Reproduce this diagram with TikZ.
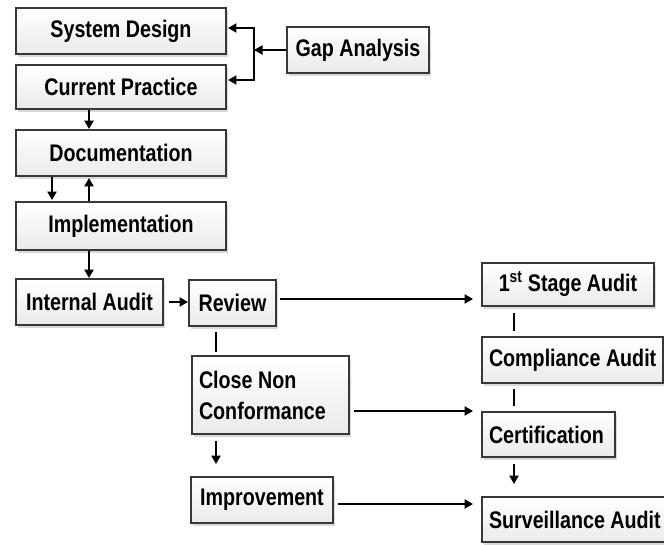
\documentclass[tikz,border=0pt]{standalone}
\usepackage{fontspec}
\newfontfamily\boxfont[FakeStretch=0.82]{Liberation Sans}
\usetikzlibrary{arrows.meta,shadows}
\tikzset{
  box/.style={draw=black!78, line width=1.9pt, top color=white, bottom color=gray!16,
    drop shadow={opacity=0.3, shadow xshift=2pt, shadow yshift=-3pt},
    inner sep=0pt, text=black,
    font=\boxfont\bfseries\fontsize{24}{31}\selectfont},
  conn/.style={line width=2.6pt, black},
  arr/.style={conn, -{Triangle[length=8.5pt,width=9pt]}},
}
\begin{document}
\begin{tikzpicture}[x=1pt,y=-1pt]
\useasboundingbox (0,0) rectangle (664,544);
% left column
\node[box, minimum width=210pt, minimum height=46pt] (sd) at (121,31) {System Design};
\node[box, minimum width=210pt, minimum height=44pt] (cp) at (121,87) {Current Practice};
\node[box, minimum width=210pt, minimum height=46pt] (doc) at (121,153) {Documentation};
\node[box, minimum width=210pt, minimum height=48pt] (imp) at (121,226) {Implementation};
\node[box, minimum width=142pt, minimum height=46pt] (gap) at (358,50) {Gap Analysis};
\node[box, minimum width=147pt, minimum height=46pt] (ia) at (89.5,302) {Internal Audit};
% middle column
\node[box, minimum width=87pt, minimum height=46pt] (rev) at (232.5,303) {Review};
\node[box, minimum width=157pt, minimum height=78pt, align=left] (close) at (270.5,395) {\makebox[143pt][l]{Close Non}\\\makebox[143pt][l]{Conformance}};
\node[box, minimum width=142pt, minimum height=46pt] (impr) at (262,500) {Improvement};
% right column
\node[box, minimum width=172pt, minimum height=43pt] (first) at (568,284.5) {1\textsuperscript{st} Stage Audit};
\node[box, minimum width=181pt, minimum height=46pt] (comp) at (572.5,360) {\makebox[167pt][l]{Compliance Audit}};
\node[box, minimum width=133pt, minimum height=45pt] (cert) at (548.5,434.5) {\makebox[119pt][l]{Certification}};
\node[box, minimum width=184pt, minimum height=45pt] (surv) at (574,519.5) {\makebox[170pt][l]{Surveillance Audit}};
% helper coordinates
\coordinate (xa) at (89,0);
\coordinate (xb) at (52,0);
\coordinate (xc) at (216,0);
\coordinate (xd) at (514,0);
\coordinate (y1) at (0,299);
\coordinate (y2) at (0,411);
\coordinate (y3) at (0,504);
\coordinate (jt) at (254,28);
\coordinate (jb) at (254,80);
\coordinate (jm) at (254,50);
% gap analysis connectors
\draw[arr] (gap.west) -- (jm);
\draw[arr, shorten >=1pt] (jb) -- (jt) -- (sd.east |- jt);
\draw[arr, shorten >=1pt] (jt) -- (jb) -- (cp.east |- jb);
% left column flow
\draw[arr] (cp.south -| xa) -- (doc.north -| xa);
\draw[arr, shorten >=1pt] (doc.south -| xb) -- (imp.north -| xb);
\draw[arr, shorten >=1pt] (imp.north -| xa) -- (doc.south -| xa);
\draw[arr] (imp.south -| xa) -- (ia.north -| xa);
\draw[arr, shorten <=5pt] (ia.east) -- (rev.west |- ia.east);
% middle
\draw[arr, shorten <=3pt, shorten >=8pt] (rev.east |- y1) -- (first.west |- y1);
\draw[conn, shorten <=5pt, shorten >=3pt] (rev.south -| xc) -- (close.north -| xc);
\draw[arr, shorten <=6pt, shorten >=12pt] (close.south -| xc) -- (impr.north -| xc);
\draw[arr, shorten <=4pt, shorten >=8pt] (close.east |- y2) -- (cert.west |- y2);
\draw[arr, shorten <=4pt, shorten >=8pt] (impr.east |- y3) -- (surv.west |- y3);
% right column
\draw[conn, shorten <=6pt, shorten >=5pt] (first.south -| xd) -- (comp.north -| xd);
\draw[conn, shorten <=5pt, shorten >=5pt] (comp.south -| xd) -- (cert.north -| xd);
\draw[arr, shorten <=6pt, shorten >=12pt] (cert.south -| xd) -- (surv.north -| xd);
\end{tikzpicture}
\end{document}
